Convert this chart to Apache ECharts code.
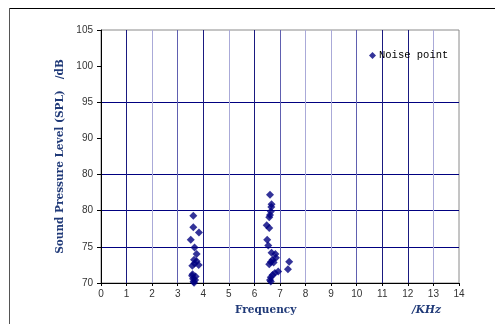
<!DOCTYPE html>
<html><head><meta charset="utf-8">
<script src="https://cdn.jsdelivr.net/npm/echarts@6/dist/echarts.min.js"></script>
<style>html,body{margin:0;padding:0;background:#fff}#c{width:495px;height:324px}</style>
</head><body><div id="c"></div>
<script>
var freqKHz = [3.61,3.61,3.83,3.51,3.66,3.74,3.64,3.74,3.82,3.57,3.66,3.56,3.70,3.60,3.68,3.62,3.64,3.58,
  6.61,6.67,6.66,6.64,6.61,6.58,6.48,6.58,6.50,6.54,6.67,6.82,6.84,6.71,6.64,6.75,6.58,7.36,7.31,6.93,6.80,6.71,6.64,6.61,6.64];
var splDb = [79.3,77.7,77.0,76.0,74.9,74.0,73.2,73.0,72.5,72.4,72.7,71.0,70.9,70.6,70.4,70.2,70.05,71.2,
  82.2,80.9,80.5,79.9,79.4,79.1,78.0,77.6,76.0,75.2,74.2,74.0,73.5,73.2,72.9,72.85,72.6,72.95,71.9,71.6,71.4,71.1,70.8,70.4,70.2];
var yTickLabels = ['70','75','80','80','90','95','100','105'];
var xTickLabels = ['0','1','2','3','4','5','6','7','8','9','10','11','12','13','14'];
var seriesName = 'Noise point';

var points = freqKHz.map(function(f,i){return [f, splDb[i]];});
var D='#1a1a80', L='#aaaad8', M='#6060b0', T='rgba(0,0,0,0)';
var chart = echarts.init(document.getElementById('c'));
chart.setOption({
  animation:false,
  backgroundColor:'#fff',
  grid:{left:101,right:36,top:30,bottom:41,show:true,borderColor:'#8a8a8a',borderWidth:1,backgroundColor:'#fff'},
  legend:{show:true,left:364,top:45,icon:'diamond',itemWidth:7,itemHeight:7,itemGap:0,
    textStyle:{fontFamily:'Liberation Mono',fontSize:10.5,color:'#000',padding:[0,0,0,-2]},
    data:[seriesName]},
  xAxis:{type:'value',min:0,max:14,interval:1,
    axisLine:{show:true,onZero:false,lineStyle:{color:'#000',width:1}},
    axisTick:{show:true,length:3,lineStyle:{color:'#000'}},
    axisLabel:{margin:6,fontSize:10,fontFamily:'Liberation Sans Narrow, Liberation Sans',color:'#333',
      formatter:function(v){return xTickLabels[Math.round(v)];}},
    splitLine:{show:true,showMinLine:true,showMaxLine:true,
      lineStyle:{width:1,color:[T,D,L,M,D,L,D,M,L,L,M,D,D,L,T]}}},
  yAxis:{type:'value',min:70,max:105,interval:5,
    axisLine:{show:true,onZero:false,lineStyle:{color:'#000',width:1}},
    axisTick:{show:true,length:4,lineStyle:{color:'#000'}},
    axisLabel:{margin:8,fontSize:10,fontFamily:'Liberation Sans Narrow, Liberation Sans',color:'#333',
      formatter:function(v){return yTickLabels[Math.round((v-70)/5)];}},
    splitLine:{show:true,showMinLine:true,showMaxLine:true,
      lineStyle:{width:1,color:[T,'#000080','#000080','#000080',T,'#000080',T,T]}},
    name:'Sound Pressure Level (SPL)   /dB',nameLocation:'middle',nameGap:33,nameRotate:90,
    nameTextStyle:{fontFamily:'DejaVu Serif',fontSize:10.5,fontWeight:'bold',color:'#203a78'}},
  graphic:[
    {type:'line',shape:{x1:9,y1:8.5,x2:495,y2:8.5},style:{stroke:'#000',lineWidth:1}},
    {type:'line',shape:{x1:9.5,y1:8,x2:9.5,y2:324},style:{stroke:'#555',lineWidth:1}},
    {type:'text',left:235,top:305,style:{text:'Frequency',fontFamily:'DejaVu Serif',fontSize:10.5,fontWeight:'bold',fill:'#203a78'}},
    {type:'text',left:412,top:305,style:{text:'/KHz',fontFamily:'DejaVu Serif',fontSize:10.5,fontWeight:'bold',fontStyle:'italic',fill:'#203a78'}}
  ],
  series:[{name:seriesName,type:'scatter',symbol:'diamond',symbolSize:8,
    itemStyle:{color:'#000080'},data:points}]
});
</script></body></html>
